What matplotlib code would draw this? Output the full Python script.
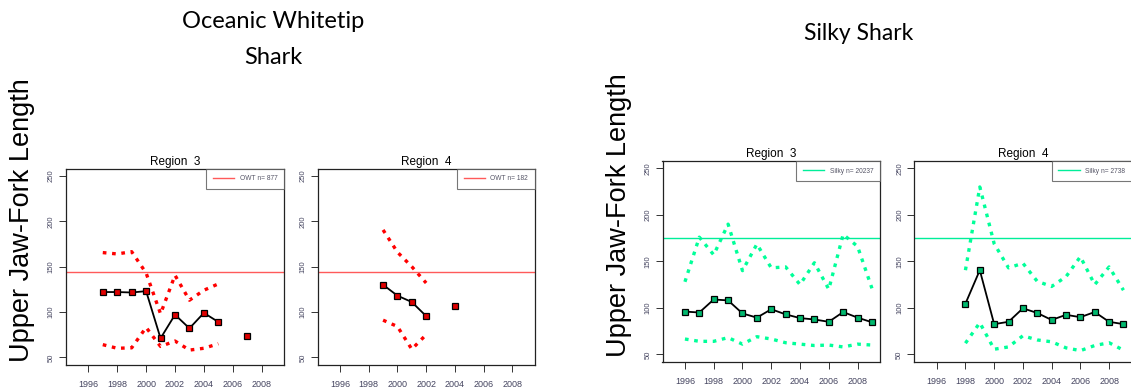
import numpy as np
import matplotlib.pyplot as plt

nan = np.nan

# Oceanic whitetip, region 3
owt3_years = np.arange(1997, 2008)
owt3_mean = [122, 122, 121.5, 123, 71, 97, 82, 99, 89, nan, 73]
owt3_upper = [165.5, 164, 166.5, 143, 98, 140.5, 113, 124, 131, nan, nan]
owt3_lower = [64, 60, 60.5, 83, 62, 68, 58, 60, 65, nan, nan]

# Oceanic whitetip, region 4
owt4_years = np.arange(1999, 2005)
owt4_mean = [130, 118, 111, 95.5, nan, 107]
owt4_upper = [190.5, 166, 150, 132, nan, nan]
owt4_lower = [91, 84, 59, 75, nan, nan]

# Silky, region 3
silky3_years = np.arange(1996, 2010)
silky3_mean = [96, 95, 109, 108, 94, 89.5, 98.5, 93, 89, 87.5, 85, 95.5, 89.5, 84.5]
silky3_upper = [128, 176, 157, 190, 140, 168.5, 143, 144, 125, 148.5, 120, 179, 166, 121]
silky3_lower = [66.5, 64, 64, 68, 61, 69, 66.5, 62.5, 61, 59.5, 60, 58, 61, 60]

# Silky, region 4
silky4_years = np.arange(1998, 2010)
silky4_mean = [104.5, 140.5, 82.5, 85, 99.5, 94.5, 87, 92.5, 90, 95.5, 85, 82.5]
silky4_upper = [140.5, 230, 169, 143, 148, 128.5, 123, 133.5, 155, 125, 144, 119]
silky4_lower = [62, 84, 55.5, 58, 70, 65.5, 63.5, 57, 54, 59.5, 62.5, 54.5]

owt_ref = 144
silky_ref = 175

panels = [
    # (left px, width px, top px, bottom px, title, years, mean, upper, lower, ref, n label, line col, ref col, fill)
    (65.8, 218.4, 168.7, 364.6, "Region  3", owt3_years, owt3_mean, owt3_upper, owt3_lower,
     owt_ref, "OWT n= 877", "#ff0000", "#ff5a5a", "#e00000"),
    (317.6, 217.1, 168.7, 364.6, "Region  4", owt4_years, owt4_mean, owt4_upper, owt4_lower,
     owt_ref, "OWT n= 182", "#ff0000", "#ff5a5a", "#e00000"),
    (662.5, 217.5, 160.9, 361.8, "Region  3", silky3_years, silky3_mean, silky3_upper, silky3_lower,
     silky_ref, "Silky n= 20237", "#00ff99", "#00ee99", "#00b86e"),
    (914.3, 217.2, 160.9, 361.8, "Region  4", silky4_years, silky4_mean, silky4_upper, silky4_lower,
     silky_ref, "Silky n= 2738", "#00ff99", "#00ee99", "#00b86e"),
]

W, H = 1131, 392
fig = plt.figure(figsize=(W / 100, H / 100), dpi=100)
plt.rcParams['font.family'] = 'Liberation Sans'

tick_col = '#454560'
for left, width, top, bottom, title, yrs, mean, up, lo, ref, lab, col, refcol, fill in panels:
    ax = fig.add_axes([left / W, 1 - bottom / H, width / W, (bottom - top) / H])
    ax.plot(yrs, up, color=col, lw=2.4, linestyle=(0, (1.1, 1.7)))
    ax.plot(yrs, lo, color=col, lw=2.4, linestyle=(0, (1.1, 1.7)))
    ax.plot(yrs, mean, color='black', lw=1.3, marker='s', ms=3.9, mfc=fill, mec='black', mew=0.9)
    ax.axhline(ref, color=refcol, lw=1.0, label=lab)
    ax.set_xlim(1994.44, 2009.56)
    ax.set_ylim(42, 258)
    ax.set_xticks(range(1996, 2009, 2))
    ax.set_yticks(range(50, 251, 50))
    ax.tick_params(axis='x', labelsize=6.5, colors='#333333', labelcolor=tick_col, length=5, width=0.7, pad=6)
    ax.tick_params(axis='y', labelsize=5.5, colors='#333333', labelcolor=tick_col, length=5, width=0.7,
                   labelrotation=90, pad=3)
    for lbl in ax.get_yticklabels():
        lbl.set_va('center')
    for s in ax.spines.values():
        s.set_color('#222222')
        s.set_linewidth(0.9)
    ax.set_title(title, fontsize=8.5, pad=3)
    leg = ax.legend(loc='upper right', fontsize=4.8, frameon=True, fancybox=False,
                    borderaxespad=0, handlelength=3.2, borderpad=1.0, labelcolor='#555566')
    leg.get_frame().set_edgecolor('#555555')
    leg.get_frame().set_linewidth(0.8)

fig.text(22 / W, 1 - 220 / H, "Upper Jaw-Fork Length", rotation=90, fontsize=19.5,
         ha='center', va='center')
fig.text(619 / W, 1 - 215 / H, "Upper Jaw-Fork Length", rotation=90, fontsize=19.5,
         ha='center', va='center')

fig.text(273 / W, 1 - 22 / H, "Oceanic Whitetip", fontsize=17, family='Lato', ha='center', va='center')
fig.text(273 / W, 1 - 57 / H, "Shark", fontsize=17, family='Lato', ha='center', va='center')
fig.text(859 / W, 1 - 33 / H, "Silky Shark", fontsize=16.5, family='Lato', ha='center', va='center')

fig.savefig('out.png', dpi=100)
